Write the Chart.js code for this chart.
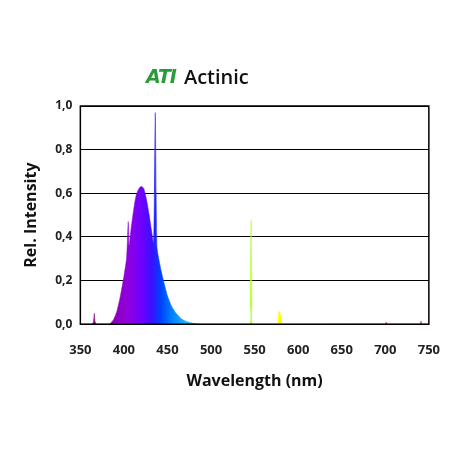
<!DOCTYPE html>
<html><head><meta charset="utf-8">
<script src="https://cdn.jsdelivr.net/npm/chart.js@4"></script>
<style>
body{margin:0;background:#fff;font-family:"Open Sans",sans-serif}
#wrap{position:absolute;left:0;top:0;width:450px;height:450px}
#title{position:absolute;left:146px;top:61px;height:30px;display:flex;align-items:center}
#logo{font:italic 900 19px "DejaVu Sans";color:#2a9a3a;margin-right:8px;letter-spacing:-1px}
#name{font:600 20px "Open Sans";color:#111}
</style></head><body>
<div id="wrap"><canvas id="c" width="450" height="450"></canvas></div>
<div id="title"><span id="logo">ATI</span><span id="name">Actinic</span></div>
<script>
var wavelengths = [350,363,365,366,367,369,383,388,392,396,400,403,404,405,406,408,411,414,417,419,421,423,426,429,432,434,435,436,437,438,440,443,446,450,455,460,466,472,480,490,500,544,545,546,547,548,576,577,578,580,582,600,700,701,702,740,741,742,750];
var intensity   = [0,0,0.01,0.05,0.01,0,0,0.02,0.06,0.13,0.22,0.3,0.38,0.47,0.36,0.43,0.52,0.59,0.62,0.63,0.63,0.62,0.57,0.5,0.42,0.37,0.6,0.97,0.6,0.35,0.3,0.24,0.19,0.13,0.08,0.05,0.025,0.012,0.004,0,0,0,0.1,0.48,0.1,0,0,0.03,0.06,0.04,0,0,0,0.01,0,0,0.015,0,0];
var xTicks = [350,400,450,500,550,600,650,700,750];
var yTicks = [0,0.2,0.4,0.6,0.8,1.0];

function spectrum(ctx){
  var a = ctx.chart.chartArea; if(!a) return '#60f';
  var x = ctx.chart.scales.x;
  var g = ctx.chart.ctx.createLinearGradient(a.left,0,a.right,0);
  var stops = [[350,'#7a1060'],[380,'#8a00a0'],[405,'#9000e0'],[420,'#7000ff'],[432,'#3a10ff'],[442,'#0040ff'],[455,'#0080ff'],[470,'#20b0f0'],[500,'#30e0c0'],[546,'#b0ff20'],[578,'#ffff00'],[620,'#ff8000'],[700,'#c02040'],[750,'#a02060']];
  stops.forEach(function(s){ g.addColorStop((x.getPixelForValue(s[0])-a.left)/(a.right-a.left), s[1]); });
  return g;
}

var frame = {id:'frame',afterDraw:function(c){var a=c.chartArea,k=c.ctx;k.save();k.strokeStyle='#000';k.lineWidth=1.5;k.strokeRect(a.left,a.top,a.right-a.left,a.bottom-a.top);k.restore();}};

new Chart('c',{
  type:'line',
  data:{datasets:[{data:wavelengths.map(function(w,i){return {x:w,y:intensity[i]};}),
    fill:'origin',borderWidth:0.5,pointRadius:0,tension:0.2,
    backgroundColor:spectrum,borderColor:spectrum}]},
  options:{responsive:false,animation:false,
    layout:{padding:{left:18,right:12,top:106,bottom:55}},
    plugins:{legend:{display:false},tooltip:{enabled:false}},
    scales:{
      x:{type:'linear',min:350,max:750,
        afterBuildTicks:function(s){s.ticks=xTicks.map(function(v){return{value:v};});},
        grid:{display:false},border:{color:'#000'},
        ticks:{color:'#222',font:{family:'Open Sans',size:13,weight:'bold'},maxRotation:0,padding:10},
        title:{display:true,text:'Wavelength (nm)',color:'#111',padding:{top:4},font:{family:'Open Sans',size:16,weight:'bold'}}},
      y:{min:0,max:1,
        afterBuildTicks:function(s){s.ticks=yTicks.map(function(v){return{value:v};});},
        grid:{color:'#000',lineWidth:1,drawTicks:false},border:{color:'#000'},
        ticks:{color:'#222',padding:8,font:{family:'Open Sans',size:12,weight:'bold'},
          callback:function(v){return v.toFixed(1).replace('.',',');}},
        title:{display:true,text:'Rel. Intensity',color:'#111',padding:{bottom:6},font:{family:'Open Sans',size:16,weight:'bold'}}}
    }},
  plugins:[frame]
});
</script></body></html>
